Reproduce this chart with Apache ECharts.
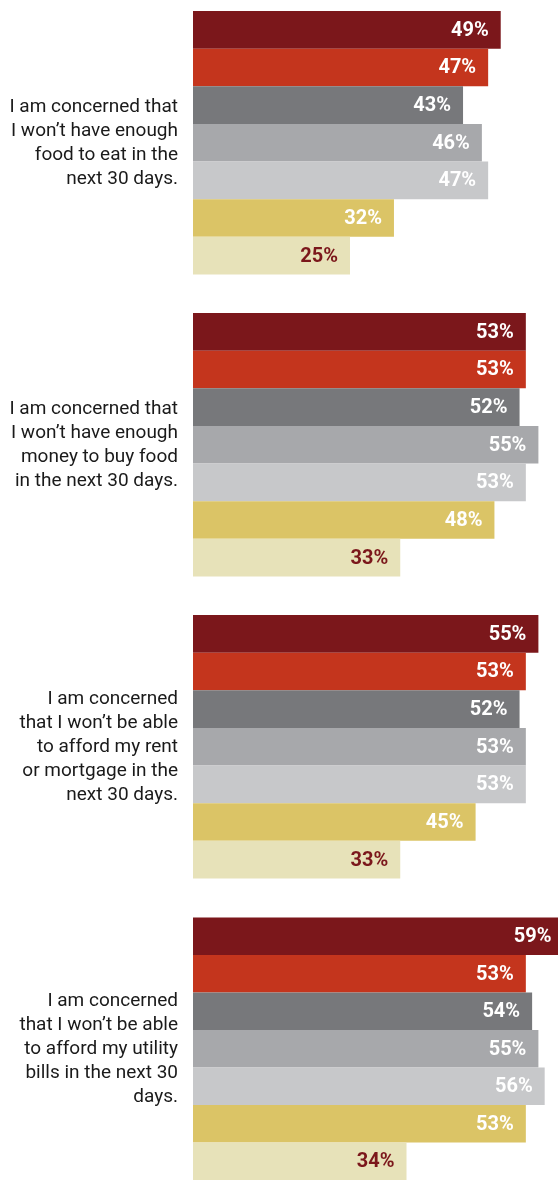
<!DOCTYPE html>
<html>
<head>
<meta charset="utf-8">
<script src="https://cdn.jsdelivr.net/npm/echarts@6/dist/echarts.min.js"></script>
<style>
html,body{margin:0;padding:0;background:#fff;}
#chart{width:558px;height:1180px;}
</style>
</head>
<body>
<div id="chart"></div>
<script>
// Data
var questions = [
  "I am concerned that\nI won\u2019t have enough\nfood to eat in the\nnext 30 days.",
  "I am concerned that\nI won\u2019t have enough\nmoney to buy food\nin the next 30 days.",
  "I am concerned\nthat I won\u2019t be able\nto afford my rent\nor mortgage in the\nnext 30 days.",
  "I am concerned\nthat I won\u2019t be able\nto afford my utility\nbills in the next 30\ndays."
];
var segments = ["Group 1", "Group 2", "Group 3", "Group 4", "Group 5", "Group 6", "Group 7"];
var foodEat = [49, 47, 43, 46, 47, 32, 25];
var moneyFood = [53, 53, 52, 55, 53, 48, 33];
var rentMortgage = [55, 53, 52, 53, 53, 45, 33];
var utilityBills = [59, 53, 54, 55, 56, 53, 34];
var groupValues = [foodEat, moneyFood, rentMortgage, utilityBills];

// Styling
var colors = ["#7B171B", "#C4351D", "#77787B", "#A7A8AB", "#C7C8CA", "#DBC466", "#E7E2B9"];
var labelColors = ["#fff", "#fff", "#fff", "#fff", "#fff", "#fff", "#7B171B"];
var groupTops = [11, 313, 615, 917.5];
var groupHeight = 263.5;
var axisMax = 365 / 6.28;

var grids = [], xAxes = [], yAxes = [], series = [];
groupValues.forEach(function (vals, i) {
  grids.push({ left: 193, top: groupTops[i], right: 0, height: groupHeight, containLabel: false });
  xAxes.push({ type: 'value', gridIndex: i, min: 0, max: axisMax, show: false });
  yAxes.push({
    type: 'category', gridIndex: i, data: segments, inverse: true, show: false
  });
  yAxes.push({
    type: 'category', gridIndex: i, data: [questions[i]], position: 'left',
    axisLine: { show: false }, axisTick: { show: false }, splitLine: { show: false },
    axisLabel: {
      fontFamily: 'Roboto', fontSize: 19, color: '#1a1a1a', lineHeight: 24,
      align: 'right', margin: 15
    }
  });
  series.push({
    type: 'bar', xAxisIndex: i, yAxisIndex: i * 2,
    barWidth: '100%', barCategoryGap: 0, silent: true, clip: false,
    data: vals.map(function (v, j) {
      return {
        value: v,
        itemStyle: { color: colors[j] },
        label: { color: labelColors[j] }
      };
    }),
    label: {
      show: true, position: 'insideRight', distance: 12, offset: [0, 1],
      fontFamily: 'Roboto', fontWeight: 'bold', fontSize: 20,
      formatter: '{c}%'
    }
  });
});

var chart = echarts.init(document.getElementById('chart'), null, { renderer: 'canvas' });
chart.setOption({
  animation: false,
  grid: grids,
  xAxis: xAxes,
  yAxis: yAxes,
  series: series
});
</script>
</body>
</html>
